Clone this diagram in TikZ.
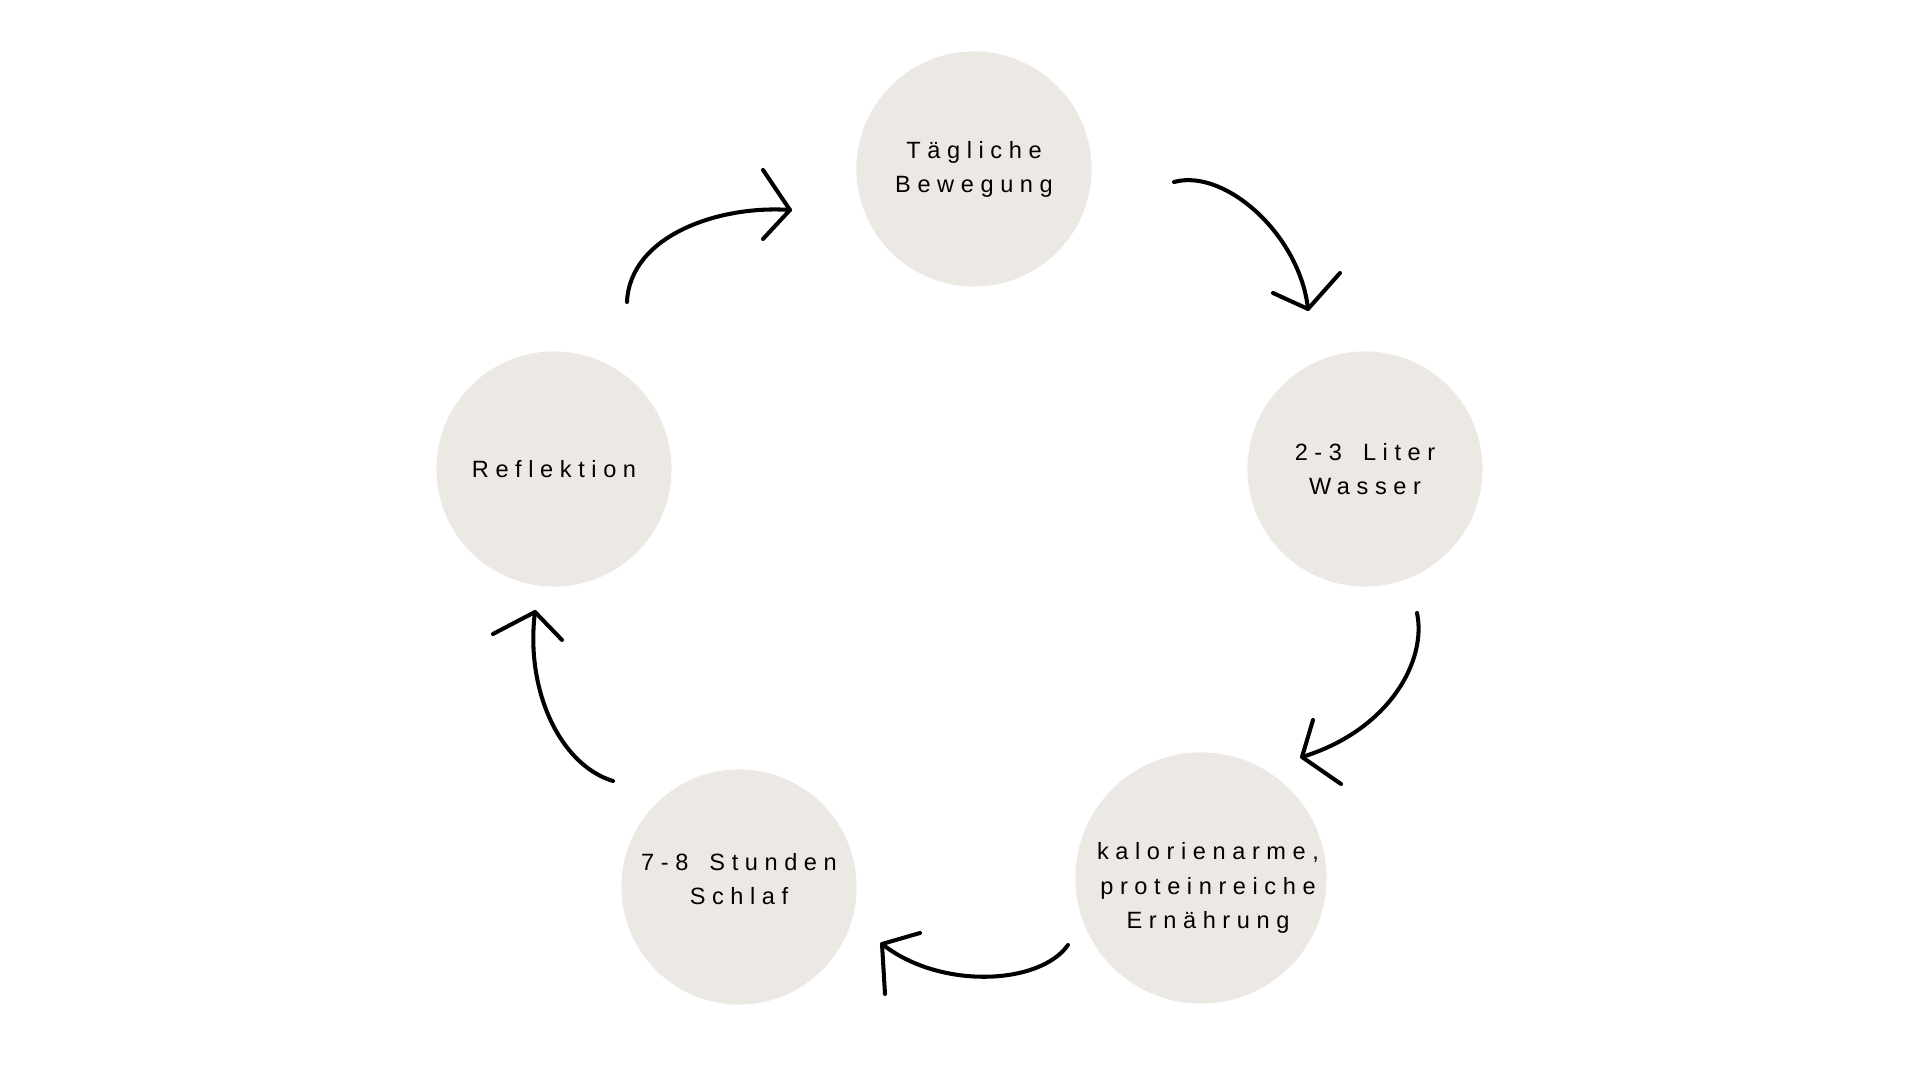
\documentclass[tikz,border=0pt]{standalone}
\usepackage{fontspec}
\usepackage{xcolor}
\usepackage{tikz}
\newfontfamily\cyclefont[LetterSpace=28,WordSpace=1.6]{Liberation Sans}
\definecolor{stone}{HTML}{ECE9E5}
\tikzset{
  habit text/.style={align=center,inner sep=0pt,
    font=\cyclefont\fontsize{6.7}{9.7}\selectfont},
  habit/.style={circle,fill=stone,minimum size=2.35cm,habit text},
  hand/.style={line width=1.15pt,line cap=round,line join=round}
}

\begin{document}
\begin{tikzpicture}[x=0.01cm,y=-0.01cm]
          \useasboundingbox (0,0) rectangle (1920,1080);
          % circles
          \node[habit] (move) at (974,169) {Tägliche\\Bewegung};
          \node[habit] (water) at (1365,469) {2-3 Liter\\Wasser};
          \node[habit,minimum size=2.51cm] (food) at (1201,878) {};
          \node[habit text] (foodtext) at (1208,888) {kalorienarme,\\proteinreiche\\Ernährung};
          \node[habit] (sleep) at (739,887) {};
          \node[habit text] (sleeptext) at (739,879) {7-8 Stunden\\Schlaf};
          \node[habit] (think) at (554,469) {Reflektion};

          % arrow ends
          \coordinate (a1s) at (1174,182); \coordinate (a1t) at (1308,309);
          \coordinate (a2s) at (1417,613); \coordinate (a2t) at (1302,757);
          \coordinate (a3s) at (1068,945); \coordinate (a3t) at (882,944);
          \coordinate (a4s) at (613,781);  \coordinate (a4t) at (535,612);
          \coordinate (a5s) at (627,302);  \coordinate (a5t) at (790,210);

          \draw[hand] (a1s) .. controls (1225,168) and (1300,235) .. (a1t);
          \draw[hand] (1273,293) -- (a1t) -- (1340,273);
          \draw[hand] (a2s) .. controls (1427,660) and (1390,730) .. (a2t);
          \draw[hand] (1313,720) -- (a2t) -- (1341,784);
          \draw[hand] (a3s) .. controls (1040,985) and (940,990) .. (a3t);
          \draw[hand] (920,933) -- (a3t) -- (885,994);
          \draw[hand] (a4s) .. controls (560,765) and (525,690) .. (a4t);
          \draw[hand] (493,634) -- (a4t) -- (562,640);
          \draw[hand] (a5s) .. controls (630,235) and (720,205) .. (a5t);
          \draw[hand] (763,170) -- (a5t) -- (763,239);
        \end{tikzpicture}
\end{document}
